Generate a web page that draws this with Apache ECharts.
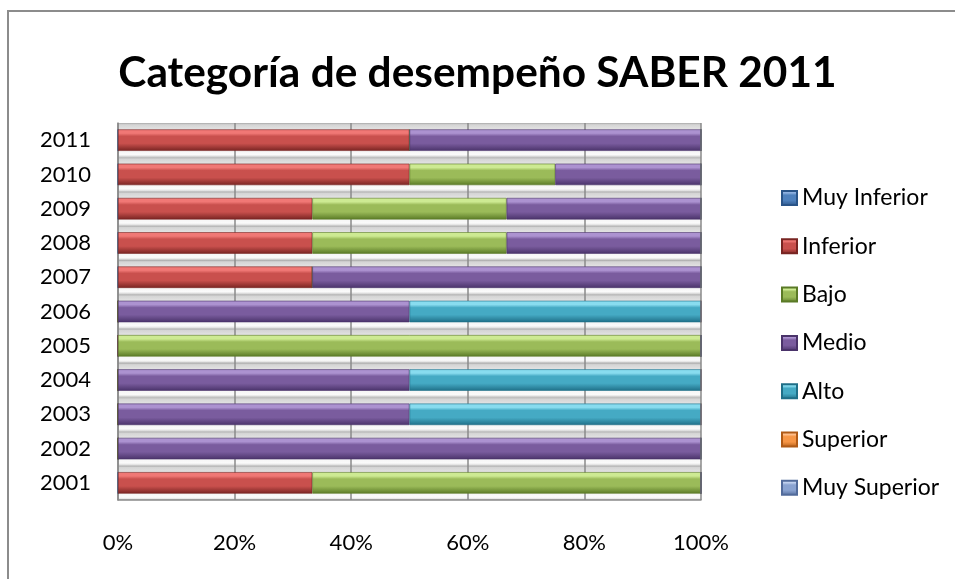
<!DOCTYPE html>
<html>
<head>
<meta charset="utf-8">
<script src="https://cdn.jsdelivr.net/npm/echarts@6/dist/echarts.min.js"></script>
<style>
html,body{margin:0;padding:0;background:#fff;}
#c{width:955px;height:579px;position:relative;}
#bt{position:absolute;left:7px;top:10px;width:948px;height:2px;background:#8c8c8c;}
#bl{position:absolute;left:7px;top:10px;width:2px;height:569px;background:#8c8c8c;}
</style>
</head>
<body>
<div id="c"></div>
<div id="bt"></div><div id="bl"></div>
<script>
const titleText = 'Categoría de desempeño SABER 2011';
const years = ['2001','2002','2003','2004','2005','2006','2007','2008','2009','2010','2011'];
const seriesNames = ['Muy Inferior','Inferior','Bajo','Medio','Alto','Superior','Muy Superior'];
const muyInferior = [0,0,0,0,0,0,0,0,0,0,0];
const inferior    = [33.33,0,0,0,0,0,33.33,33.33,33.33,50,50];
const bajo        = [66.67,0,0,0,100,0,0,33.33,33.33,25,0];
const medio       = [0,100,50,50,0,50,66.67,33.34,33.34,25,50];
const alto        = [0,0,50,50,0,50,0,0,0,0,0];
const superior    = [0,0,0,0,0,0,0,0,0,0,0];
const muySuperior = [0,0,0,0,0,0,0,0,0,0,0];
const xTicks = [0,20,40,60,80,100];

const values = [muyInferior, inferior, bajo, medio, alto, superior, muySuperior];
const palette = [
  ['#8fb1e0','#4f81bd','#2a5488'],
  ['#f07875','#c9504d','#782422'],
  ['#cdea92','#9bbb59','#5a7a26'],
  ['#ac92d0','#7a5c9e','#4a336a'],
  ['#88dcef','#45aac4','#1f6f88'],
  ['#ffc08e','#f79646','#b05a16'],
  ['#c0d0ee','#8aa3d1','#526b9b']
];
function grad(p){
  return new echarts.graphic.LinearGradient(0,0,0,1,[
    {offset:0,color:p[0]},
    {offset:0.18,color:p[0]},
    {offset:0.32,color:p[1]},
    {offset:0.65,color:p[1]},
    {offset:1,color:p[2]}
  ]);
}
const bandGrad = new echarts.graphic.LinearGradient(0,0,0,1,[
  {offset:0,color:'#a8a8a8'},
  {offset:0.05,color:'#d4d4d4'},
  {offset:0.18,color:'#e2e2e2'},
  {offset:0.5,color:'#e6e6e6'},
  {offset:0.82,color:'#f6f6f6'},
  {offset:0.92,color:'#fafafa'},
  {offset:0.97,color:'#e2e2e2'},
  {offset:1,color:'#b4b4b4'}
]);

const chart = echarts.init(document.getElementById('c'), null, {renderer:'canvas'});
const FONT = 'Lato';
chart.setOption({
  animation:false,
  title:{
    text:titleText, left:'center', top:47,
    textStyle:{fontFamily:FONT,fontWeight:'bold',fontSize:42.4,color:'#000'}
  },
  legend:{
    orient:'vertical', left:776, top:181,
    itemWidth:15, itemHeight:14, itemGap:24.3, icon:'rect',
    data:seriesNames,
    textStyle:{fontFamily:FONT,fontSize:23,color:'#000',lineHeight:24}
  },
  grid:{left:118,right:254,top:123,bottom:79,containLabel:false},
  xAxis:{
    type:'value', min:0, max:100, interval:20,
    axisLine:{show:true,lineStyle:{color:'#8a8a8a',width:1.5}},
    axisTick:{show:false},
    splitLine:{show:true,lineStyle:{color:'#8a8a8a',width:1.5}},
    axisLabel:{formatter:'{value}%',margin:32,fontFamily:FONT,fontSize:22,color:'#000',
      customValues:xTicks}
  },
  yAxis:{
    type:'category', data:years,
    axisLine:{show:true,lineStyle:{color:'#8a8a8a',width:1.5}},
    axisTick:{show:false},
    axisLabel:{margin:27,fontFamily:FONT,fontSize:22,color:'#000'},
    splitArea:{show:true,areaStyle:{color:[bandGrad]}}
  },
  series: seriesNames.map((n,i)=>({
    name:n, type:'bar', stack:'all', barWidth:21.5,
    data:values[i],
    itemStyle:{color:grad(palette[i]),borderColor:palette[i][2],borderWidth:0.6}
  }))
});
</script>
</body>
</html>
